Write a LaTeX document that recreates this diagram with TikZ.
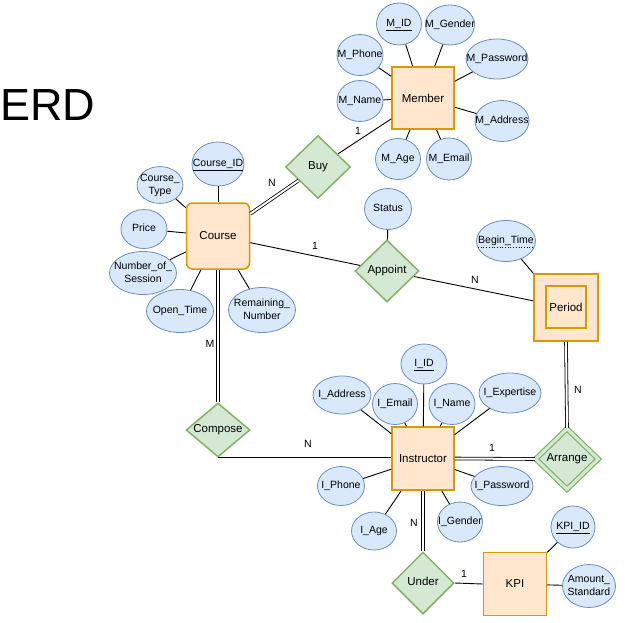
\documentclass[tikz,border=0pt]{standalone}
\usepackage{fontspec}
\setmainfont{Liberation Sans}
\usetikzlibrary{shapes.geometric}
\definecolor{entfill}{HTML}{FFE6CC}
\definecolor{entdraw}{HTML}{D79B00}
\definecolor{attfill}{HTML}{DAE8FC}
\definecolor{attdraw}{HTML}{6C8EBF}
\definecolor{relfill}{HTML}{D5E8D4}
\definecolor{reldraw}{HTML}{82B366}
\newcommand{\zw}[1]{\makebox[0pt]{\begin{tabular}{@{}c@{}}#1\end{tabular}}}
\newcommand{\ul}[1]{\underline{\smash{#1}\vphantom{y}}}
\begin{document}
\begin{tikzpicture}[x=1pt,y=-1pt,
 entity/.style={draw=entdraw, fill=entfill, line width=1.5pt, minimum width=63pt, minimum height=63pt, inner sep=0pt, font=\fontsize{11.5}{13}\selectfont},
 attr/.style={ellipse, draw=attdraw, fill=attfill, line width=0.8pt, inner sep=0pt, font=\fontsize{10.5}{13}\selectfont},
 rel/.style={diamond, draw=reldraw, fill=relfill, line width=1.5pt, inner sep=0pt, font=\fontsize{11.5}{13}\selectfont},
 conn/.style={line width=0.9pt},
 dbl/.style={line width=0.8pt, double=white, double distance=2pt},
 card/.style={font=\fontsize{10.5}{12}\selectfont, inner sep=0pt},
]
\useasboundingbox (0,0) rectangle (634,622);

\node[anchor=base west, inner sep=0pt, font=\fontsize{45}{50}\selectfont] (title) at (0,120) {ERD};

% Member
\node[entity, minimum width=62pt, minimum height=62pt] (Member) at (423,98) {Member};
\node[attr, minimum width=45pt, minimum height=42pt] (MID) at (399,24) {\zw{\ul{M\_ID}}};
\node[attr, minimum width=49pt, minimum height=40pt] (MGender) at (450,25) {\zw{M\_Gender}};
\node[attr, minimum width=46pt, minimum height=41pt] (MPhone) at (360,55) {\zw{M\_Phone}};
\node[attr, minimum width=62pt, minimum height=40pt] (MPassword) at (497,59) {\zw{M\_Password}};
\node[attr, minimum width=46pt, minimum height=41pt] (MName) at (360,101) {\zw{M\_Name}};
\node[attr, minimum width=54pt, minimum height=41pt] (MAddress) at (502,121) {\zw{M\_Address}};
\node[attr, minimum width=45pt, minimum height=41pt] (MAge) at (398,159) {\zw{M\_Age}};
\node[attr, minimum width=45pt, minimum height=42pt] (MEmail) at (449,159) {\zw{M\_Email}};

% Buy
\node[rel, minimum width=65pt, minimum height=63pt] (Buy) at (318,167) {\zw{Buy}};

% Course
\node[entity, rounded corners=6pt, minimum width=63pt, minimum height=66pt] (Course) at (218,236) {Course};
\node[attr, minimum width=52pt, minimum height=44pt] (CourseID) at (218,164) {\zw{\ul{Course\_ID}}};
\node[attr, minimum width=46pt, minimum height=34pt] (CourseType) at (160,185) {\zw{Course\_\\Type}};
\node[attr, minimum width=46pt, minimum height=39pt] (Price) at (144,229) {\zw{Price}};
\node[attr, minimum width=67pt, minimum height=43pt] (NumSession) at (143,273) {\zw{Number\_of\_\\Session}};
\node[attr, minimum width=67pt, minimum height=43pt] (OpenTime) at (180,311) {\zw{Open\_Time}};
\node[attr, minimum width=67pt, minimum height=45pt] (Remaining) at (262,310) {\zw{Remaining\_\\Number}};

% Appoint
\node[attr, minimum width=47pt, minimum height=41pt] (Status) at (388,209) {\zw{Status}};
\node[rel, minimum width=64pt, minimum height=62pt] (Appoint) at (387,271) {\zw{Appoint}};

% Period
\node[attr, minimum width=59pt, minimum height=41pt] (BeginTime) at (506,241) {\zw{Begin\_Time}};
\node[entity, minimum width=64pt, minimum height=67pt] (Period) at (566,307.5) {};
\node[draw=entdraw, line width=1.5pt, minimum width=40pt, minimum height=42pt, inner sep=0pt, font=\fontsize{11.5}{13}\selectfont] (PeriodIn) at (566,307) {Period};

% Arrange
\node[rel, double=relfill, double distance=3pt, line width=1.2pt, minimum width=63pt, minimum height=61pt] (Arrange) at (567,459) {\zw{Arrange}};

% Instructor
\node[entity, minimum width=62pt, minimum height=63pt] (Instructor) at (423,458.5) {Instructor};
\node[attr, minimum width=46pt, minimum height=40pt] (IID) at (424,364) {\zw{\ul{I\_ID}}};
\node[attr, minimum width=58pt, minimum height=38pt] (IAddress) at (342,395) {\zw{I\_Address}};
\node[attr, minimum width=45pt, minimum height=41pt] (IEmail) at (395,404) {\zw{I\_Email}};
\node[attr, minimum width=46pt, minimum height=41pt] (IName) at (452,404) {\zw{I\_Name}};
\node[attr, minimum width=62pt, minimum height=40pt] (IExpertise) at (510,393) {\zw{I\_Expertise}};
\node[attr, minimum width=47pt, minimum height=39pt] (IPhone) at (341,486) {\zw{I\_Phone}};
\node[attr, minimum width=62pt, minimum height=39pt] (IPassword) at (502,486) {\zw{I\_Password}};
\node[attr, minimum width=45pt, minimum height=38pt] (IAge) at (374,531) {\zw{I\_Age}};
\node[attr, minimum width=45pt, minimum height=40pt] (IGender) at (460,522) {\zw{I\_Gender}};

% KPI
\node[entity, minimum width=63pt, minimum height=63pt] (KPI) at (515,584) {KPI};
\node[attr, minimum width=44pt, minimum height=42pt] (KPIID) at (573,527) {\zw{\ul{KPI\_ID}}};
\node[attr, minimum width=53pt, minimum height=43pt] (Amount) at (589,586) {\zw{Amount\_\\Standard}};

% Under, Compose
\node[rel, minimum width=62pt, minimum height=62pt] (Under) at (423,583) {\zw{Under}};
\node[rel, minimum width=64pt, minimum height=54pt] (Compose) at (218,430) {\zw{Compose}};

% dotted underline of Begin_Time
\draw[dotted, line width=0.7pt] ([xshift=-28pt,yshift=-6.5pt]BeginTime.center) -- ++(56,0);

% attribute connectors
\foreach \a in {MID,MGender,MPhone,MPassword,MName,MAddress,MAge,MEmail}
  \draw[conn] (\a) -- (Member);
\foreach \a in {CourseID,CourseType,Price,NumSession,OpenTime,Remaining}
  \draw[conn] (\a) -- (Course);
\foreach \a in {IID,IAddress,IEmail,IName,IExpertise,IPhone,IPassword,IAge,IGender}
  \draw[conn] (\a) -- (Instructor);
\draw[conn] (Status) -- (Appoint);
\draw[conn] (BeginTime) -- (Period.north west);
\draw[conn] (KPIID) -- (KPI);
\draw[conn] (Amount) -- (KPI);

% relationship connectors
\draw[dbl] (Course) -- (Buy);
\draw[conn] (Buy) -- (Member);
\draw[conn] (Course) -- (Appoint);
\draw[conn] (Appoint) -- (Period);
\draw[dbl] (Period.south) -- (Arrange.north);
\draw[dbl] (Instructor.east) -- (Arrange.west);
\draw[dbl] (Course.south) -- (Compose.north);
\draw[conn] (Compose.south) -- (Compose.south -| Instructor.west);
\draw[dbl] (Instructor.south) -- (Under.north);
\draw[conn] (Under.east) -- (KPI.west);

% cardinalities
\node[card] (cBuyC) at (272,183) {N};
\node[card] (cBuyM) at (358,131) {1};
\node[card] (cAppC) at (315,246) {1};
\node[card] (cAppP) at (475,280) {N};
\node[card] (cArrP) at (578,390) {N};
\node[card] (cArrI) at (492,448) {1};
\node[card] (cComC) at (210,344) {M};
\node[card] (cComI) at (308,444) {N};
\node[card] (cUndI) at (414,523) {N};
\node[card] (cUndK) at (464,574) {1};
\end{tikzpicture}
\end{document}
